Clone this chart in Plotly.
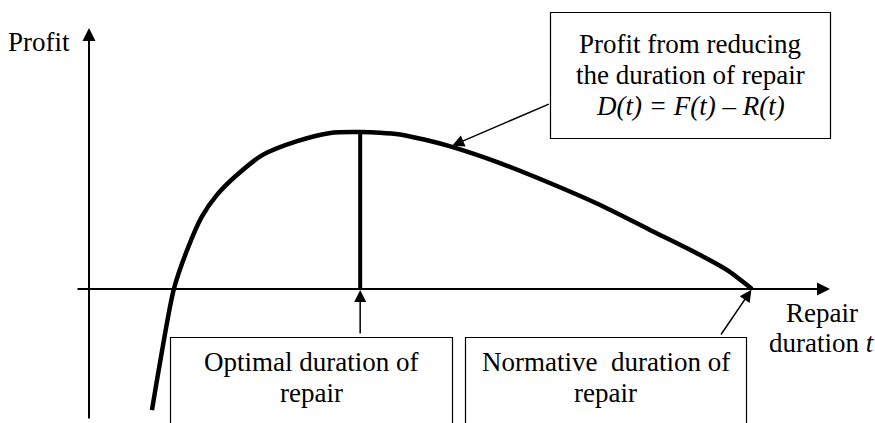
import plotly.graph_objects as go

# ---- data ----
# repair duration t (arbitrary units, normative duration = 10)
t_vals = [0.95, 1.06, 1.28, 1.48, 1.70, 1.93, 2.23, 2.62, 3.14, 3.64, 4.09,
          4.39, 4.69, 5.07, 5.45, 6.20, 6.95, 7.71, 8.46, 9.22, 9.62, 10.0]
# profit D(t) = F(t) - R(t)
d_vals = [-4.57, -2.94, 0.0, 1.47, 2.72, 3.55, 4.30, 5.06, 5.58, 5.89, 5.92,
          5.90, 5.83, 5.63, 5.38, 4.75, 4.00, 3.17, 2.23, 1.28, 0.72, 0.0]
opt_index = 10          # optimal duration (max profit)
label_index = 14        # point the curve label arrow points to
norm_index = len(t_vals) - 1   # normative duration

box_top_lines = ["Profit from reducing", "the duration of repair",
                 "<i>D(t) = F(t) – R(t)</i>"]
box_opt_lines = ["Optimal duration of", "repair"]
box_norm_lines = ["Normative\u00a0 duration of", "repair"]
x_label_lines = ["Repair", "duration <i>t</i>"]
y_label = "Profit"

# ---- layout geometry ----
W, H = 875, 423
OX, OY = 89, 289        # pixel position of origin
SX, SY = 66.3, 26.5     # pixels per unit


def tx(px):
    return (px - OX) / SX


def dy(py):
    return (OY - py) / SY


def pxp(px):
    return px / W


def pyp(py):
    return 1 - py / H


FONT = dict(family="Liberation Serif, Times New Roman, serif", size=27, color="black")

fig = go.Figure()

fig.add_trace(go.Scatter(
    x=t_vals, y=d_vals, mode="lines",
    line=dict(color="black", width=4.5, shape="spline", smoothing=0.8),
    hoverinfo="skip", showlegend=False))

t_opt, d_max = t_vals[opt_index], d_vals[opt_index]
fig.add_trace(go.Scatter(
    x=[t_opt, t_opt], y=[0, d_max], mode="lines",
    line=dict(color="black", width=4), hoverinfo="skip", showlegend=False))

annotations = []

# axes with arrows
annotations.append(dict(x=tx(830), y=0, xref="x", yref="y", ax=-754, ay=0,
                        showarrow=True, arrowhead=2, arrowsize=1.3, arrowwidth=2,
                        arrowcolor="black", text=""))
annotations.append(dict(x=0, y=dy(28), xref="x", yref="y", ax=0, ay=392,
                        showarrow=True, arrowhead=2, arrowsize=1.3, arrowwidth=2,
                        arrowcolor="black", text=""))

# pointer arrows
annotations.append(dict(x=t_opt, y=0, xref="x", yref="y", ax=0, ay=46,
                        showarrow=True, arrowhead=2, arrowsize=1.6, arrowwidth=1.5,
                        arrowcolor="black", text="", standoff=1))
annotations.append(dict(x=t_vals[norm_index], y=d_vals[norm_index], xref="x", yref="y",
                        ax=-32, ay=47, showarrow=True, arrowhead=2, arrowsize=1.6,
                        arrowwidth=1.5, arrowcolor="black", text="", standoff=1))
annotations.append(dict(x=t_vals[label_index], y=d_vals[label_index], xref="x", yref="y",
                        ax=100, ay=-43, showarrow=True, arrowhead=2, arrowsize=1.6,
                        arrowwidth=1.5, arrowcolor="black", text="", standoff=2))


def add_lines(lines, cx, ys):
    for txt, yy in zip(lines, ys):
        annotations.append(dict(x=pxp(cx), y=pyp(yy), xref="paper", yref="paper",
                                text=txt, showarrow=False, font=FONT,
                                xanchor="center", yanchor="middle"))


add_lines(box_top_lines, 690, [44, 75, 106])
add_lines(box_opt_lines, 311, [362, 393])
add_lines(box_norm_lines, 605.5, [362, 393])
add_lines(x_label_lines, 822, [313, 343])
add_lines([y_label], 39, [42])

shapes = []
for x0, y0, x1, y1 in [(550.5, 12.5, 830.5, 138.5), (170.5, 337.5, 452.5, 440),
                       (465.5, 337.5, 746.5, 440)]:
    shapes.append(dict(type="rect", xref="paper", yref="paper",
                       x0=pxp(x0), x1=pxp(x1), y0=pyp(y1), y1=pyp(y0),
                       line=dict(color="black", width=1.2), fillcolor="white",
                       layer="below"))

fig.update_layout(
    width=W, height=H, margin=dict(l=0, r=0, t=0, b=0),
    paper_bgcolor="white", plot_bgcolor="white",
    xaxis=dict(range=[tx(0), tx(W)], visible=False, fixedrange=True),
    yaxis=dict(range=[dy(H), dy(0)], visible=False, fixedrange=True),
    annotations=annotations, shapes=shapes, showlegend=False)

fig.write_html("out.html", config={"displayModeBar": False},
               post_script="document.body.style.margin='0';document.body.style.overflow='hidden';")
